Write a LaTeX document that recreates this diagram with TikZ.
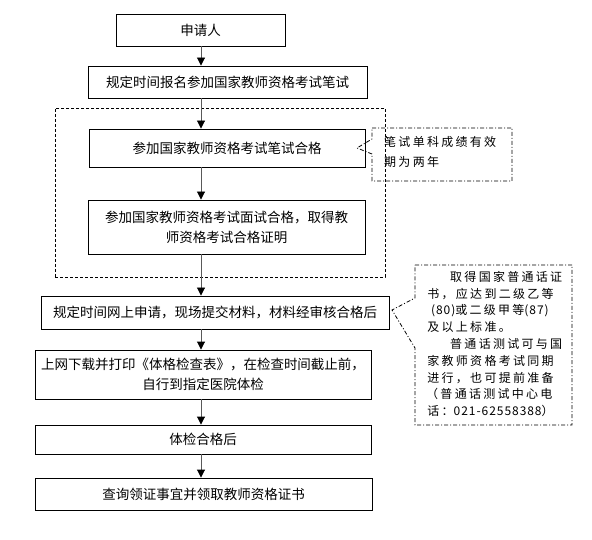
\documentclass[tikz,border=0pt]{standalone}
\usepackage{fontspec}
\setmainfont{Noto Sans CJK SC}
\newfontfamily\calloutfont[LetterSpace=19]{Noto Sans CJK SC}
\newfontfamily\calloutdigits[LetterSpace=8]{Noto Sans CJK SC}
\usetikzlibrary{arrows.meta}
\begin{document}
\begin{tikzpicture}[x=1pt,y=-1pt,
  box/.style={draw,line width=0.9pt,inner sep=0pt,align=center,
    font=\fontsize{13.5}{20}\selectfont},
  arr/.style={draw=black!65,line width=0.9pt,
    -{Triangle[length=8pt,width=8pt,fill=black,color=black]}},
  dashbox/.style={draw,line width=0.8pt,dash pattern=on 3pt off 2pt},
  callout/.style={draw,line width=0.8pt,dash pattern=on 4pt off 2pt on 1pt off 2pt},
  ctext/.style={inner sep=0pt,align=left,font=\calloutfont\fontsize{12}{16.8}\selectfont}]
\useasboundingbox[fill=white] (0,0) rectangle (592,540);

\node[box,minimum width=169pt,minimum height=32pt] (b1) at (200.5,30) {申请人};
\node[box,minimum width=279pt,minimum height=32pt] (b2) at (227.5,82) {规定时间报名参加国家教师资格考试笔试};
\node[dashbox,minimum width=330pt,minimum height=169pt,inner sep=0pt] (d) at (220,192.5) {};
\node[box,minimum width=276pt,minimum height=38pt] (b3) at (227,148) {参加国家教师资格考试笔试合格};
\node[box,minimum width=277pt,minimum height=54pt] (b4) at (226.5,227) {参加国家教师资格考试面试合格，取得教\\师资格考试合格证明};
\node[box,minimum width=348pt,minimum height=33pt] (b5) at (215,312.5) {规定时间网上申请，现场提交材料，材料经审核合格后};
\node[box,minimum width=336pt,minimum height=49pt] (b6) at (203,374.5) {上网下载并打印《体格检查表》，在检查时间截止前，\\自行到指定医院体检};
\node[box,minimum width=336pt,minimum height=29pt] (b7) at (203,439.5) {体检合格后};
\node[box,minimum width=337pt,minimum height=32pt] (b8) at (203.5,494) {查询领证事宜并领取教师资格证书};

\coordinate (ax) at (201,0);
\draw[arr] (b1.south -| ax) -- (b2.north -| ax);
\draw[arr] (b2.south -| ax) -- (b3.north -| ax);
\draw[arr] (b3.south -| ax) -- (b4.north -| ax);
\draw[arr] (b4.south -| ax) -- (b5.north -| ax);
\draw[arr] (b5.south -| ax) -- (b6.north -| ax);
\draw[arr] (b6.south -| ax) -- (b7.north -| ax);
\draw[arr] (b7.south -| ax) -- (b8.north -| ax);

% callout 1
\draw[callout] (372,128) -- (512,128) -- (512,181) -- (372,181) -- (372,154) -- (357,148) -- (372,139) -- cycle;
\node[ctext,anchor=north west,font=\calloutfont\fontsize{12}{20}\selectfont] (c1) at (384,136) {笔试单科成绩有效\\期为两年};

% callout 2
\draw[callout] (415,265) -- (572,265) -- (572,425) -- (415,425) -- (415,348) -- (392,310) -- (415,298) -- cycle;
\node[ctext,anchor=north west] (c2) at (426,271) {\hspace*{2em}取得国家普通话证\\
\hspace*{0.1em}书，应达到二级乙等\\
\hspace*{0.4em}{\calloutdigits(80)}或二级甲等{\calloutdigits(87)}\\
\hspace*{0.1em}及以上标准。\\
\hspace*{2em}普通话测试可与国\\
\hspace*{0.1em}家教师资格考试同期\\
\hspace*{0.1em}进行，也可提前准备\\
（普通话测试中心电\\
\hspace*{0.1em}话：{\calloutdigits 021-62558388}）};
\end{tikzpicture}
\end{document}
